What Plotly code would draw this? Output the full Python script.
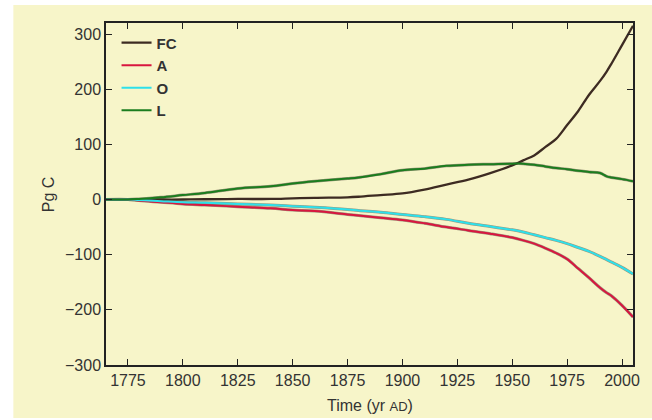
import plotly.graph_objects as go

years = [1765, 1775, 1780, 1790, 1800, 1810, 1825, 1840, 1850, 1860, 1875, 1880, 1890,
         1900, 1910, 1920, 1930, 1940, 1950, 1955, 1960, 1965, 1970, 1975, 1980, 1985,
         1990, 1993, 1995, 2000, 2005]

fc = [0, 0, 0, 0, 0, 0.5, 1, 1, 2, 3, 4, 5, 8,
      11, 18, 27, 36, 48, 62, 71, 80, 95, 110, 135, 160, 190,
      215, 232, 245, 280, 315]
atm = [0, 0, -2, -5, -8, -10, -13, -16, -19, -21, -27, -29, -33,
       -37, -43, -50, -56, -62, -69, -74, -80, -88, -97, -108, -125, -142,
       -160, -169, -174, -192, -213]
ocean = [0, 0, -1, -3, -5, -6, -8, -10, -12, -14, -18, -20, -23,
         -27, -31, -36, -43, -49, -55, -59, -64, -69, -74, -80, -87, -94,
         -103, -109, -113, -123, -135]
land = [0, 0, 1, 4, 8, 12, 20, 24, 29, 33, 38, 40, 46,
        53, 56, 61, 63, 64, 65, 65, 63, 60, 57, 55, 52, 50,
        48, 42, 40, 37, 33]

series = [("FC", fc, "#3d2b22"), ("A", atm, "#d8163f"), ("O", ocean, "#2ee0ea"), ("L", land, "#1b7d1e")]

x_ticks = [1775, 1800, 1825, 1850, 1875, 1900, 1925, 1950, 1975, 2000]
y_ticks = [-300, -200, -100, 0, 100, 200, 300]
y_labels = ["\u2212300", "\u2212200", "\u2212100", "0", "100", "200", "300"]

CREAM = "#F7F5C9"
FONT = "Liberation Sans, Arial, sans-serif"

fig = go.Figure()
for name, vals, col in series:
    if name != "FC":
        fig.add_trace(go.Scatter(x=years, y=vals, mode="lines", showlegend=False,
                                 hoverinfo="skip",
                                 line=dict(color="rgba(50,35,30,0.45)", width=3.0,
                                           shape="spline", smoothing=1.0)))
for name, vals, col in series:
    fig.add_trace(go.Scatter(x=years, y=vals, mode="lines", name=name,
                             line=dict(color=col, width=2.3 if name == "FC" else 2.0,
                                       shape="spline", smoothing=1.0)))

fig.add_shape(type="rect", xref="paper", yref="paper",
              x0=(13 - 106) / 529, x1=(660 - 106) / 529,
              y0=(365 - 418) / 342, y1=(365 - 5) / 342,
              fillcolor=CREAM, line=dict(width=0), layer="below")

axis_common = dict(showline=True, linecolor="#222", linewidth=1.5, mirror="ticks",
                   ticks="inside", ticklen=6, tickwidth=1.3, tickcolor="#222",
                   showgrid=False, zeroline=False,
                   tickfont=dict(family=FONT, size=16, color="#333"))

fig.update_layout(
    width=652, height=420,
    margin=dict(l=106, r=17, t=23, b=55),
    paper_bgcolor="white", plot_bgcolor=CREAM,
    font=dict(family=FONT, color="#333"),
    xaxis=dict(range=[1765, 2005], tickvals=x_ticks, **axis_common),
    yaxis=dict(range=[-300, 320], tickvals=y_ticks, ticktext=y_labels, **axis_common),
    legend=dict(x=0.02, y=0.99, xanchor="left", yanchor="top",
                bgcolor="rgba(0,0,0,0)", font=dict(family=FONT, size=15, color="#333", weight="bold"),
                itemwidth=30, tracegroupgap=0),
    showlegend=True,
    annotations=[
        dict(text="Pg C", xref="paper", yref="paper", x=(48 - 106) / 529, y=0.5,
             textangle=-90, showarrow=False, xanchor="center", yanchor="middle",
             font=dict(family=FONT, size=16, color="#333")),
        dict(text="Time (yr <span style='font-size:13px'>AD</span>)", xref="paper", yref="paper",
             x=0.5, y=(365 - 405) / 342, showarrow=False, xanchor="center", yanchor="middle",
             font=dict(family=FONT, size=16, color="#333")),
    ],
)

fig.write_html("out.html", config={"displayModeBar": False},
               post_script="document.body.style.margin='0';document.body.style.overflow='hidden';")
